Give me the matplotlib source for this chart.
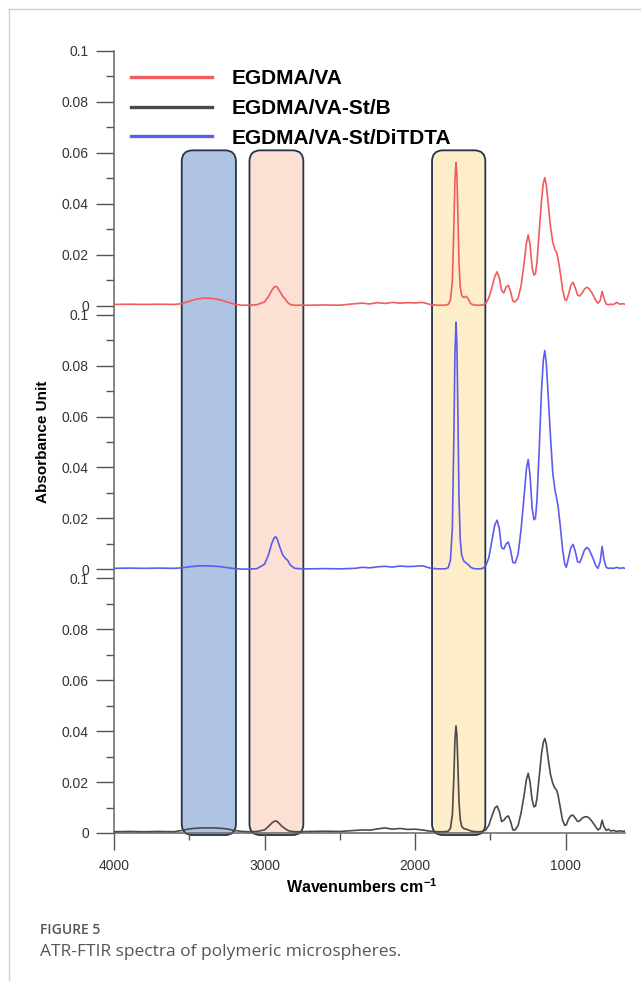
import matplotlib
matplotlib.use("Agg")
import matplotlib.pyplot as plt
from matplotlib.patches import FancyBboxPatch
from matplotlib.lines import Line2D

plt.rcParams['font.family'] = ['Liberation Sans', 'DejaVu Sans']
plt.rcParams['mathtext.fontset'] = 'custom'
plt.rcParams['mathtext.bf'] = 'Liberation Sans:bold'
plt.rcParams['mathtext.rm'] = 'Liberation Sans'

# wavenumber grid shared by the three spectra (cm-1)
wavenumber = [
    4000, 3900, 3800, 3700, 3600, 3550, 3500, 3450, 3400, 3350,
    3300, 3250, 3200, 3150, 3100, 3050, 3000, 2975, 2950, 2935,
    2925, 2915, 2900, 2880, 2860, 2845, 2830, 2800, 2750, 2700,
    2600, 2500, 2400, 2350, 2300, 2250, 2200, 2150, 2100, 2050,
    2000, 1950, 1900, 1850, 1800, 1780, 1765, 1752, 1742, 1735,
    1728, 1722, 1715, 1708, 1700, 1690, 1675, 1660, 1645, 1630,
    1610, 1590, 1570, 1550, 1530, 1510, 1490, 1470, 1455, 1440,
    1425, 1410, 1395, 1380, 1365, 1350, 1335, 1315, 1295, 1275,
    1260, 1248, 1236, 1222, 1210, 1200, 1190, 1175, 1160, 1148,
    1138, 1128, 1115, 1100, 1085, 1070, 1060, 1050, 1035, 1020,
    1005, 995, 980, 965, 950, 935, 920, 905, 890, 875,
    860, 845, 830, 815, 800, 785, 770, 757, 745, 730,
    715, 700, 680, 660, 640, 620, 605,
]

egdma_va = [
    .0005, .0006, .0005, .0006, .0005, .0008, .0018, .0026, .0030, .0029,
    .0024, .0015, .0006, .0002, .0002, .0004, .0015, .0035, .0062, .0074,
    .0076, .0072, .0058, .0038, .0024, .0012, .0005, .0002, .0002, .0002,
    .0003, .0002, .0008, .0010, .0007, .0012, .0009, .0013, .0010, .0012,
    .0011, .0013, .0005, .0002, .0002, .0005, .0022, .0095, .0310, .0490,
    .0562, .0520, .0350, .0170, .0075, .0040, .0032, .0037, .0025, .0008,
    .0003, .0002, .0002, .0003, .0010, .0030, .0070, .0115, .0133, .0110,
    .0060, .0050, .0074, .0080, .0055, .0018, .0015, .0030, .0080, .0170,
    .0245, .0278, .0240, .0150, .0120, .0125, .0170, .0290, .0410, .0480,
    .0503, .0475, .0400, .0310, .0250, .0220, .0210, .0185, .0130, .0065,
    .0025, .0020, .0045, .0080, .0092, .0070, .0042, .0038, .0050, .0065,
    .0072, .0068, .0055, .0040, .0022, .0010, .0020, .0056, .0030, .0006,
    .0004, .0006, .0005, .0013, .0006, .0008, .0006,
]

egdma_va_st_ditdta = [
    .0004, .0005, .0004, .0005, .0004, .0006, .0010, .0013, .0014, .0013,
    .0011, .0007, .0003, .0001, .0001, .0003, .0020, .0055, .0105, .0124,
    .0128, .0118, .0090, .0058, .0042, .0035, .0018, .0004, .0002, .0002,
    .0003, .0002, .0004, .0008, .0006, .0010, .0012, .0009, .0013, .0011,
    .0012, .0014, .0005, .0002, .0002, .0006, .0035, .0160, .0520, .0840,
    .0970, .0890, .0600, .0280, .0120, .0055, .0032, .0025, .0018, .0008,
    .0003, .0002, .0002, .0004, .0015, .0045, .0110, .0175, .0193, .0160,
    .0085, .0080, .0100, .0107, .0075, .0027, .0025, .0060, .0160, .0290,
    .0395, .0431, .0370, .0240, .0195, .0200, .0270, .0470, .0700, .0820,
    .0859, .0810, .0680, .0520, .0380, .0310, .0282, .0250, .0170, .0080,
    .0020, .0008, .0045, .0085, .0098, .0070, .0030, .0027, .0050, .0075,
    .0086, .0080, .0060, .0040, .0015, .0004, .0030, .0090, .0040, .0008,
    .0004, .0005, .0004, .0008, .0004, .0006, .0004,
]

egdma_va_st_b = [
    .0005, .0006, .0005, .0006, .0005, .0010, .0016, .0019, .0020, .0020,
    .0019, .0016, .0010, .0006, .0005, .0006, .0012, .0025, .0040, .0046,
    .0047, .0045, .0036, .0024, .0016, .0010, .0007, .0005, .0005, .0006,
    .0007, .0006, .0010, .0012, .0011, .0016, .0020, .0015, .0018, .0014,
    .0015, .0012, .0007, .0005, .0005, .0007, .0018, .0070, .0220, .0365,
    .0420, .0385, .0260, .0125, .0055, .0026, .0017, .0015, .0012, .0008,
    .0006, .0005, .0005, .0007, .0012, .0030, .0065, .0098, .0106, .0085,
    .0045, .0050, .0062, .0067, .0045, .0012, .0012, .0030, .0080, .0150,
    .0210, .0234, .0200, .0130, .0103, .0105, .0135, .0220, .0310, .0355,
    .0371, .0350, .0290, .0230, .0195, .0175, .0169, .0150, .0100, .0050,
    .0030, .0032, .0055, .0068, .0070, .0058, .0045, .0048, .0058, .0063,
    .0064, .0060, .0050, .0038, .0025, .0012, .0018, .0050, .0025, .0010,
    .0015, .0008, .0010, .0006, .0009, .0006, .0008,
]

# highlighted bands (cm-1): O-H, C-H, C=O
band_hi = [3550, 3100, 1887]
band_lo = [3190, 2742, 1533]

y_ticks = [0, 0.02, 0.04, 0.06, 0.08, 0.1]
y_tick_labels = ['0', '0.02', '0.04', '0.06', '0.08', '0.1']
x_ticks = [4000, 3000, 2000, 1000]

# each panel spans 0..0.1, stacked with a small gap
gap = 0.0035
off_top, off_mid, off_bot = 2 * (0.1 + gap), 0.1 + gap, 0.0

fig = plt.figure(figsize=(6.41, 9.81), dpi=100)
W, H = 641, 981
ax = fig.add_axes([114 / W, 1 - 833 / H, (625 - 114) / W, (833 - 51) / H])

red = '#f25c5c'
blue = '#5c5cee'
dark = '#4a4a4a'

l_red, = ax.plot(wavenumber, [v + off_top for v in egdma_va], color=red, lw=1.2, zorder=3)
l_blue, = ax.plot(wavenumber, [v + off_mid for v in egdma_va_st_ditdta], color=blue, lw=1.2, zorder=3)
l_dark, = ax.plot(wavenumber, [v + off_bot for v in egdma_va_st_b], color=dark, lw=1.2, zorder=3)

ax.set_xlim(4000, 605)
ax.set_ylim(0, 0.1 + off_top)

# rounded band boxes, drawn in data units
x_per_px = 1000 / 150.6
y_per_px = 0.1 / 255
aspect = y_per_px / x_per_px
fills = ['#afc3e3', '#fbe0d3', '#fdedc8']
for hi, lo, fc in zip(band_hi, band_lo, fills):
    box = FancyBboxPatch((lo, -0.0008), hi - lo, off_top + 0.061 + 0.0008,
                         boxstyle='round,pad=0,rounding_size=%f' % (11 * x_per_px),
                         mutation_aspect=aspect, fc=fc, ec='#24344a', lw=1.3,
                         zorder=1, clip_on=False)
    ax.add_patch(box)

# ticks
yt, ytl, ym = [], [], []
for off in (off_bot, off_mid, off_top):
    yt += [off + t for t in y_ticks]
    ytl += y_tick_labels
    ym += [off + t + 0.01 for t in y_ticks[:-1]]
ax.set_yticks(yt, ytl)
ax.set_yticks(ym, minor=True)
ax.set_xticks(x_ticks, [str(t) for t in x_ticks])
ax.set_xticks([3500, 2500, 1500], minor=True)

ax.tick_params(axis='both', which='both', direction='out', color='#555555', width=1.0)
ax.tick_params(axis='y', which='major', length=13, pad=5, labelsize=10, labelcolor='#333333')
ax.tick_params(axis='y', which='minor', length=6)
ax.tick_params(axis='x', which='major', length=12, pad=7, labelsize=10, labelcolor='#333333')
ax.tick_params(axis='x', which='minor', length=5)

for s in ('top', 'right'):
    ax.spines[s].set_visible(False)
for s in ('left', 'bottom'):
    ax.spines[s].set_color('#666666')
    ax.spines[s].set_linewidth(1.1)

ax.set_xlabel(r'Wavenumbers cm$^{\mathbf{-1}}$', fontsize=11.5, fontweight='bold', va='center')
ax.xaxis.set_label_coords((362 - 114) / 511, (833 - 887) / 782)
ax.set_ylabel('Absorbance Unit', fontsize=11, fontweight='bold', va='center')
ax.yaxis.set_label_coords((43 - 114) / 511, 0.5)

leg = ax.legend([l_red, l_dark, l_blue],
                ['EGDMA/VA', 'EGDMA/VA-St/B', 'EGDMA/VA-St/DiTDTA'],
                loc='upper left', bbox_to_anchor=((131 - 114) / 511, (833 - 69) / 782),
                frameon=False, borderpad=0, borderaxespad=0, handlelength=3.9,
                handletextpad=0.95, labelspacing=0.52,
                prop={'weight': 'bold', 'size': 15})
for h in leg.get_lines():
    h.set_linewidth(2.4)

# page frame lines and caption
fig.add_artist(Line2D([9 / W, 9 / W], [0, 1 - 9 / H], transform=fig.transFigure,
                      color='#d0d0d0', lw=1))
fig.add_artist(Line2D([9 / W, 1], [1 - 9 / H, 1 - 9 / H], transform=fig.transFigure,
                      color='#d0d0d0', lw=1))
fig.text(40 / W, 1 - 930 / H, 'FIGURE 5', fontsize=10, color='#555555',
         family=['Open Sans', 'DejaVu Sans'], fontweight='semibold', va='center')
fig.text(40 / W, 1 - 952 / H, 'ATR-FTIR spectra of polymeric microspheres.', fontsize=12.5,
         color='#555555', family=['Open Sans', 'DejaVu Sans'], va='center')

fig.savefig('out.png', dpi=100)
